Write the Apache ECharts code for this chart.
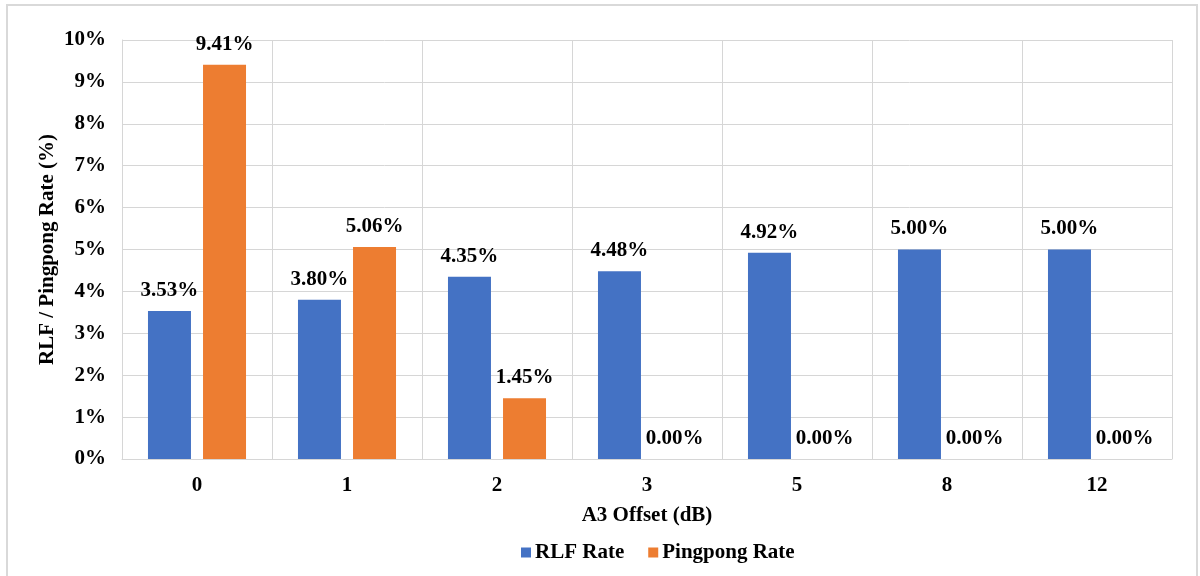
<!DOCTYPE html>
<html>
<head>
<meta charset="utf-8">
<script src="https://cdn.jsdelivr.net/npm/echarts@6/dist/echarts.min.js"></script>
<style>
html,body{margin:0;padding:0;background:#fff;}
#chart{width:1200px;height:576px;}
</style>
</head>
<body>
<div id="chart"></div>
<script>
const categories = ['0', '1', '2', '3', '5', '8', '12'];
const rlfRate = [3.53, 3.80, 4.35, 4.48, 4.92, 5.00, 5.00];
const pingpongRate = [9.41, 5.06, 1.45, 0.00, 0.00, 0.00, 0.00];
const seriesNames = ['RLF Rate', 'Pingpong Rate'];
const xAxisTitle = 'A3 Offset (dB)';
const yAxisTitle = 'RLF / Pingpong Rate (%)';

const FONT = "'Liberation Serif', 'Times New Roman', serif";
const txt = {fontFamily: FONT, fontWeight: 'bold', fontSize: 21, color: '#000'};
const gridColor = '#d6d6d6';

const chart = echarts.init(document.getElementById('chart'), null, {renderer: 'canvas'});
chart.setOption({
  animation: false,
  backgroundColor: '#fff',
  graphic: [{
    type: 'rect', silent: true, z: -10,
    shape: {x: 7, y: 5, width: 1190, height: 620},
    style: {fill: '#fff', stroke: '#d9d9d9', lineWidth: 2}
  }],
  grid: {left: 122, right: 28, top: 40, bottom: 117, containLabel: false},
  legend: {
    bottom: 8, left: 516,
    itemWidth: 10, itemHeight: 10, itemGap: 24,
    icon: 'rect',
    textStyle: Object.assign({}, txt, {padding: [0, 0, 0, -1]}),
    data: seriesNames
  },
  xAxis: {
    type: 'category',
    data: categories,
    name: xAxisTitle,
    nameLocation: 'middle',
    nameGap: 46,
    nameMoveOverlap: false,
    nameTextStyle: txt,
    axisLine: {show: true, lineStyle: {color: gridColor, width: 1}},
    axisTick: {show: false},
    axisLabel: Object.assign({}, txt, {margin: 16}),
    splitLine: {show: true, lineStyle: {color: gridColor, width: 1}}
  },
  yAxis: {
    type: 'value',
    min: 0, max: 10, interval: 1,
    name: yAxisTitle,
    nameLocation: 'middle',
    nameRotate: 90,
    nameGap: 64,
    nameMoveOverlap: false,
    nameTextStyle: txt,
    axisLine: {show: true, lineStyle: {color: gridColor, width: 1}},
    axisTick: {show: false},
    axisLabel: Object.assign({}, txt, {margin: 16, formatter: '{value}%'}),
    splitLine: {show: true, lineStyle: {color: gridColor, width: 1}}
  },
  series: [
    {
      name: seriesNames[0], type: 'bar', data: rlfRate,
      barWidth: 43, barGap: '28%',
      itemStyle: {color: '#4472C4'},
      label: Object.assign({show: true, position: 'top', distance: 10,
        formatter: p => p.value.toFixed(2) + '%'}, txt)
    },
    {
      name: seriesNames[1], type: 'bar', data: pingpongRate,
      barWidth: 43, barGap: '28%',
      itemStyle: {color: '#ED7D31'},
      label: Object.assign({show: true, position: 'top', distance: 10,
        formatter: p => p.value.toFixed(2) + '%'}, txt)
    }
  ]
});
</script>
</body>
</html>
